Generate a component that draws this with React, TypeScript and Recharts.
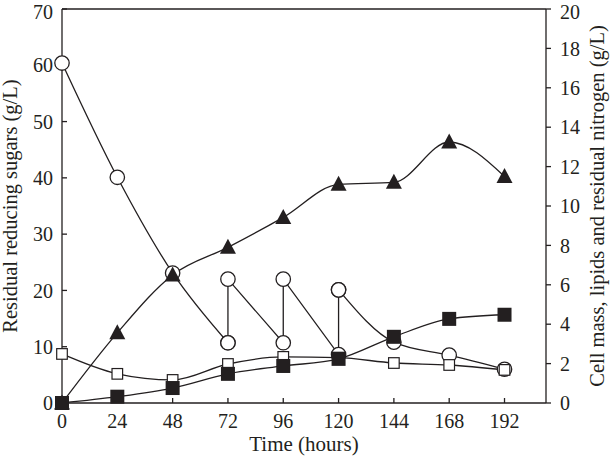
import { LineChart, Line, XAxis, YAxis, ReferenceLine, Label } from 'recharts';

// time points (hours)
const hours = [0, 24, 48, 72, 96, 120, 144, 168, 192];
const hourTicks = [0, 24, 48, 72, 96, 120, 144, 168, 192];
const sugarTicks = [0, 10, 20, 30, 40, 50, 60, 70];
const rightTicks = [0, 2, 4, 6, 8, 10, 12, 14, 16, 18, 20];

// residual reducing sugars (left axis) - feeding pulses give double points
const sugarHours = [0, 24, 48, 72, 72, 96, 96, 120, 120, 144, 168, 192];
const sugarValues = [60.4, 40.1, 23.1, 10.7, 22.0, 10.7, 22.0, 8.6, 20.1, 10.8, 8.5, 6.0];

// right axis series
const cellMass = [0, 3.56, 6.5, 7.9, 9.42, 11.1, 11.2, 13.25, 11.5];
const lipids = [0, 0.32, 0.76, 1.48, 1.88, 2.24, 3.36, 4.27, 4.48];
const nitrogen = [2.49, 1.48, 1.17, 1.98, 2.34, 2.3, 2.03, 1.93, 1.68];

const ink = '#231f20';
const font = '"Liberation Serif", "Times New Roman", serif';

const sugarData = sugarHours.map((t, i) => ({ t, sugar: sugarValues[i] }));
const mainData = hours.map((t, i) => ({
  t,
  cellMass: cellMass[i],
  lipids: lipids[i],
  nitrogen: nitrogen[i],
}));

// segments of the sugar curve: smooth decay, straight feeding zig-zag, smooth tail
const sugarHead = sugarData.slice(0, 4);
const sugarFeeds = sugarData.slice(3, 9);
const sugarTail = sugarData.slice(8);

const OpenCircle = (p: any) => (
  <circle key={`oc-${p.index}`} cx={p.cx} cy={p.cy} r={7.2} fill="#fff" stroke={ink} strokeWidth={1.3} />
);
const OpenSquare = (p: any) => (
  <rect key={`os-${p.index}`} x={p.cx - 5.3} y={p.cy - 5.3} width={10.6} height={10.6} fill="#fff" stroke={ink} strokeWidth={1.2} />
);
const FilledSquare = (p: any) => (
  <rect key={`fs-${p.index}`} x={p.cx - 7} y={p.cy - 7} width={14} height={14} fill={ink} />
);
const FilledTriangle = (p: any) => (
  <polygon
    key={`ft-${p.index}`}
    points={`${p.cx},${p.cy - 8.5} ${p.cx + 8},${p.cy + 6.5} ${p.cx - 8},${p.cy + 6.5}`}
    fill={ink}
  />
);

const tickStyle = { fontFamily: font, fontSize: 20, fill: ink };

export default function App() {
  return (
    <div style={{ position: 'absolute', left: 0, top: 0, background: '#fff' }}>
      <LineChart
        width={616}
        height={462}
        data={mainData}
        margin={{ top: 9, right: 0, bottom: 0, left: 0 }}
      >
        <XAxis
          dataKey="t"
          type="number"
          domain={[0, 210]}
          ticks={hourTicks}
          height={59}
          tickSize={-5}
          tickMargin={16}
          tick={tickStyle}
          stroke={ink}
          strokeWidth={1.3}
        >
          <Label
            content={({ viewBox }: any) => (
              <text
                x={viewBox.x + viewBox.width / 2}
                y={viewBox.y + 48}
                textAnchor="middle"
                fontFamily={font}
                fontSize={21}
                fill={ink}
              >
                Time (hours)
              </text>
            )}
          />
        </XAxis>
        <YAxis
          yAxisId="left"
          orientation="left"
          domain={[0, 70]}
          ticks={sugarTicks}
          width={62}
          tickSize={-5}
          tickMargin={14}
          tick={tickStyle}
          stroke={ink}
          strokeWidth={1.3}
        >
          <Label
            content={({ viewBox }: any) => {
              const x = viewBox.x + 17;
              const y = viewBox.y + viewBox.height / 2;
              return (
                <text
                  x={x}
                  y={y}
                  transform={`rotate(-90 ${x} ${y})`}
                  textAnchor="middle"
                  fontFamily={font}
                  fontSize={20.5}
                  fill={ink}
                >
                  Residual reducing sugars (g/L)
                </text>
              );
            }}
          />
        </YAxis>
        <YAxis
          yAxisId="right"
          orientation="right"
          domain={[0, 20]}
          ticks={rightTicks}
          width={70}
          tickSize={5}
          tickMargin={9}
          tick={tickStyle}
          stroke={ink}
          strokeWidth={1.3}
        >
          <Label
            content={({ viewBox }: any) => {
              const x = viewBox.x + 58;
              const y = viewBox.y + viewBox.height / 2;
              return (
                <text
                  x={x}
                  y={y}
                  transform={`rotate(-90 ${x} ${y})`}
                  textAnchor="middle"
                  fontFamily={font}
                  fontSize={20.5}
                  fill={ink}
                >
                  Cell mass, lipids and residual nitrogen (g/L)
                </text>
              );
            }}
          />
        </YAxis>
        <ReferenceLine yAxisId="left" y={70} stroke={ink} strokeWidth={1.3} />

        <Line yAxisId="left" data={sugarHead} dataKey="sugar" type="monotone" stroke={ink} strokeWidth={1.3} dot={OpenCircle} isAnimationActive={false} />
        <Line yAxisId="left" data={sugarFeeds} dataKey="sugar" type="linear" stroke={ink} strokeWidth={1.3} dot={OpenCircle} isAnimationActive={false} />
        <Line yAxisId="left" data={sugarTail} dataKey="sugar" type="monotone" stroke={ink} strokeWidth={1.3} dot={OpenCircle} isAnimationActive={false} />
        <Line yAxisId="right" dataKey="nitrogen" type="monotone" stroke={ink} strokeWidth={1.3} dot={OpenSquare} isAnimationActive={false} />
        <Line yAxisId="right" dataKey="lipids" type="monotone" stroke={ink} strokeWidth={1.3} dot={FilledSquare} isAnimationActive={false} />
        <Line yAxisId="right" dataKey="cellMass" type="monotone" stroke={ink} strokeWidth={1.3} dot={FilledTriangle} isAnimationActive={false} />
      </LineChart>
    </div>
  );
}
